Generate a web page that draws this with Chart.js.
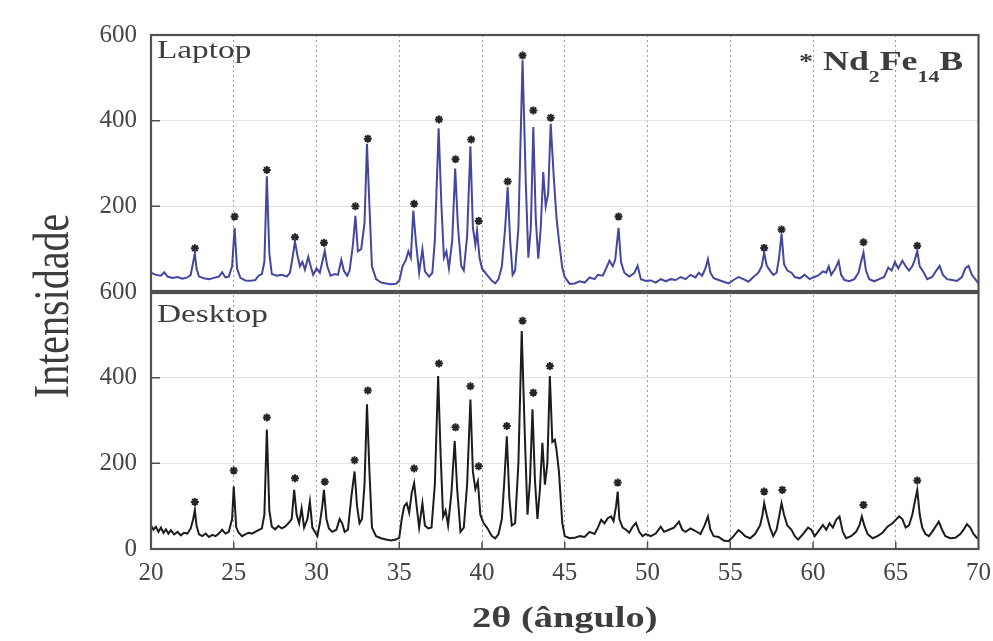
<!DOCTYPE html>
<html>
<head>
<meta charset="utf-8">
<script src="https://cdn.jsdelivr.net/npm/chart.js@4.4.1/dist/chart.umd.min.js"></script>
<style>
  html, body { margin: 0; padding: 0; background: #fff; overflow: hidden; }
  .ChartBox { width: 1000px; height: 641px; }
</style>
</head>
<body>
<div class="ChartBox"><canvas id="Chart"></canvas></div>
<script>
// axis ticks
let xTicks = [20, 25, 30, 35, 40, 45, 50, 55, 60, 65, 70];
let yTicks = [0, 200, 400, 600];

// Laptop pattern: [2theta, intensity]
let laptopPattern = [
    [20.0,45],[20.3,40],[20.6,38],[20.8,46],[21.0,36],[21.3,33],[21.6,35],[21.9,31],[22.2,34],[22.4,40],
    [22.55,70],[22.65,90],[22.75,55],[22.9,36],[23.2,32],[23.5,30],[23.8,33],[24.1,36],[24.3,46],[24.5,34],
    [24.7,36],[24.9,60],[25.05,150],[25.2,55],[25.4,33],[25.7,27],[26.0,26],[26.3,28],[26.5,38],[26.7,42],
    [26.85,70],[27.0,270],[27.15,90],[27.3,42],[27.6,38],[27.9,40],[28.2,36],[28.4,45],[28.55,80],[28.7,118],
    [28.85,85],[29.0,60],[29.15,70],[29.3,52],[29.5,82],[29.65,60],[29.8,40],[30.0,55],[30.2,45],[30.35,70],
    [30.5,96],[30.65,60],[30.85,38],[31.1,42],[31.3,40],[31.5,75],[31.65,50],[31.85,38],[32.0,50],[32.2,110],
    [32.35,178],[32.5,95],[32.7,100],[32.9,160],[33.05,346],[33.2,200],[33.35,60],[33.6,30],[33.9,22],[34.2,20],
    [34.5,18],[34.8,19],[35.0,26],[35.2,60],[35.4,75],[35.55,95],[35.7,80],[35.85,190],[36.0,120],[36.2,45],
    [36.4,100],[36.55,48],[36.8,36],[37.0,45],[37.15,120],[37.38,382],[37.55,200],[37.7,80],[37.85,95],[38.0,55],
    [38.2,120],[38.38,288],[38.55,150],[38.75,60],[38.9,50],[39.1,130],[39.3,340],[39.45,150],[39.6,110],[39.7,143],
    [39.85,80],[40.0,55],[40.3,40],[40.6,26],[40.8,20],[41.0,30],[41.2,60],[41.4,150],[41.55,245],[41.7,120],
    [41.85,40],[42.0,50],[42.2,150],[42.45,541],[42.65,250],[42.8,80],[42.95,150],[43.1,385],[43.25,170],[43.4,78],
    [43.55,150],[43.7,280],[43.85,200],[44.0,230],[44.15,393],[44.35,260],[44.5,174],[44.65,120],[44.85,57],[45.0,35],
    [45.3,19],[45.6,20],[45.9,25],[46.2,22],[46.5,34],[46.8,30],[47.0,40],[47.3,38],[47.5,55],[47.7,73],
    [47.9,60],[48.05,75],[48.25,150],[48.4,70],[48.6,45],[48.9,36],[49.2,44],[49.4,61],[49.6,30],[49.9,26],
    [50.2,27],[50.5,22],[50.8,30],[51.1,25],[51.4,30],[51.7,28],[52.0,35],[52.3,30],[52.6,40],[52.9,34],
    [53.1,45],[53.3,38],[53.5,55],[53.65,77],[53.8,45],[54.0,32],[54.3,28],[54.6,24],[54.9,20],[55.2,28],
    [55.5,35],[55.8,30],[56.1,24],[56.4,35],[56.7,45],[56.9,60],[57.05,92],[57.2,62],[57.4,50],[57.6,40],
    [57.8,45],[57.95,80],[58.1,136],[58.25,65],[58.45,50],[58.7,45],[58.9,35],[59.2,32],[59.5,40],[59.8,30],
    [60.0,34],[60.3,38],[60.6,48],[60.8,45],[60.95,60],[61.1,40],[61.35,55],[61.55,72],[61.7,40],[61.9,28],
    [62.2,25],[62.5,30],[62.75,45],[62.9,70],[63.05,92],[63.2,50],[63.4,30],[63.7,25],[64.0,30],[64.3,35],
    [64.55,57],[64.75,50],[64.95,70],[65.15,55],[65.4,73],[65.6,60],[65.8,50],[66.0,60],[66.15,75],[66.3,96],
    [66.45,60],[66.7,45],[66.9,30],[67.2,35],[67.45,50],[67.65,61],[67.85,40],[68.1,30],[68.4,28],[68.7,26],
    [69.0,35],[69.2,55],[69.4,61],[69.6,40],[69.8,30],[70.0,20]
];

// Desktop pattern: [2theta, intensity]
let desktopPattern = [
    [20.0,55],[20.15,45],[20.3,52],[20.45,40],[20.6,50],[20.75,38],[20.9,46],[21.05,36],[21.2,44],[21.4,34],
    [21.6,40],[21.8,32],[22.0,38],[22.2,36],[22.4,48],[22.55,70],[22.65,91],[22.75,55],[22.9,34],[23.1,30],
    [23.3,36],[23.5,28],[23.7,33],[23.9,30],[24.1,36],[24.3,45],[24.5,36],[24.7,40],[24.9,70],[25.0,146],
    [25.15,50],[25.3,38],[25.5,30],[25.7,34],[25.9,38],[26.1,36],[26.3,40],[26.5,44],[26.7,48],[26.85,80],
    [27.0,279],[27.15,90],[27.3,52],[27.5,46],[27.7,54],[27.9,48],[28.1,52],[28.3,60],[28.5,70],[28.65,138],
    [28.8,80],[28.95,60],[29.1,95],[29.25,50],[29.45,70],[29.6,111],[29.75,50],[29.9,40],[30.05,30],[30.2,60],
    [30.35,100],[30.45,138],[30.6,70],[30.75,48],[30.95,40],[31.2,45],[31.4,70],[31.55,60],[31.7,40],[31.9,45],
    [32.1,120],[32.3,181],[32.45,100],[32.6,60],[32.75,70],[32.9,150],[33.05,338],[33.2,180],[33.35,50],[33.6,30],
    [33.9,25],[34.2,22],[34.5,20],[34.8,22],[35.0,26],[35.15,70],[35.3,100],[35.45,107],[35.6,85],[35.75,130],
    [35.9,154],[36.05,100],[36.2,50],[36.4,107],[36.55,55],[36.75,48],[36.95,50],[37.15,150],[37.35,404],[37.5,220],
    [37.65,75],[37.8,90],[37.95,55],[38.15,130],[38.35,252],[38.5,140],[38.7,40],[38.9,50],[39.1,150],[39.3,349],
    [39.45,180],[39.6,140],[39.75,158],[39.9,80],[40.1,60],[40.3,50],[40.6,30],[40.8,25],[41.0,35],[41.2,70],
    [41.35,160],[41.5,263],[41.65,120],[41.8,55],[42.0,60],[42.2,200],[42.4,509],[42.6,250],[42.75,80],[42.9,160],
    [43.05,326],[43.2,160],[43.35,70],[43.5,140],[43.65,248],[43.8,150],[43.95,200],[44.1,404],[44.25,250],[44.4,255],
    [44.5,232],[44.65,180],[44.85,61],[45.0,30],[45.3,25],[45.6,26],[45.9,30],[46.2,28],[46.5,40],[46.8,35],
    [47.0,50],[47.2,68],[47.4,60],[47.6,72],[47.8,76],[47.95,65],[48.1,100],[48.2,134],[48.3,70],[48.5,50],
    [48.7,45],[48.9,38],[49.1,52],[49.3,61],[49.5,40],[49.7,30],[49.9,35],[50.2,30],[50.5,36],[50.8,52],
    [51.0,40],[51.3,45],[51.6,50],[51.9,64],[52.1,45],[52.3,40],[52.6,48],[52.9,42],[53.2,35],[53.45,55],
    [53.65,76],[53.8,45],[54.0,30],[54.3,28],[54.6,20],[54.9,18],[55.2,30],[55.5,44],[55.7,38],[55.9,30],
    [56.2,25],[56.5,35],[56.8,55],[56.95,80],[57.05,107],[57.2,80],[57.4,50],[57.6,30],[57.8,45],[57.95,75],
    [58.1,107],[58.25,80],[58.45,55],[58.7,45],[58.9,30],[59.1,22],[59.4,35],[59.7,50],[59.9,45],[60.1,30],
    [60.3,40],[60.6,56],[60.8,45],[61.0,60],[61.2,50],[61.4,68],[61.6,76],[61.8,40],[62.0,25],[62.3,30],
    [62.6,40],[62.8,55],[62.95,76],[63.1,55],[63.3,35],[63.6,25],[63.9,30],[64.2,38],[64.5,52],[64.8,60],
    [65.0,68],[65.2,76],[65.4,70],[65.6,50],[65.8,55],[66.0,80],[66.15,110],[66.3,138],[66.45,80],[66.6,50],
    [66.8,35],[67.0,30],[67.2,40],[67.45,55],[67.6,64],[67.8,45],[68.0,30],[68.3,25],[68.6,26],[68.9,35],
    [69.1,45],[69.3,58],[69.5,50],[69.7,35],[69.9,26],[70.0,24]
];

// Nd2Fe14B peak markers (*)
let laptopPeaks = [
    [22.65,102],[25.05,176],[27.0,285],[28.7,128],[30.45,115],[32.35,200],[33.1,358],[35.9,206],[37.4,403],[38.4,310],
    [39.35,356],[39.8,166],[41.55,258],[42.45,552],[43.1,424],[44.15,407],[48.25,176],[57.05,103],[58.1,146],[63.05,116],[66.3,108]
];
let desktopPeaks = [
    [22.65,110],[25.0,183],[27.0,307],[28.7,165],[30.5,157],[32.3,207],[33.1,370],[35.9,188],[37.4,433],[38.4,284],
    [39.3,380],[39.8,193],[41.5,287],[42.45,533],[43.1,365],[44.1,427],[48.2,155],[57.05,134],[58.15,138],[63.05,103],[66.3,160]
];

const SX = 1.28;
const TXT = '#3d3d3d';

function stretchedText(ctx, text, x, y, font, align) {
    ctx.save();
    ctx.font = font;
    ctx.fillStyle = TXT;
    ctx.translate(x, y);
    ctx.scale(SX, 1);
    ctx.textAlign = align || 'left';
    ctx.textBaseline = 'alphabetic';
    ctx.fillText(text, 0, 0);
    ctx.restore();
}

const framePlugin = {
    id: 'frame',
    afterDraw(chart) {
        let ctx = chart.ctx;
        let area = chart.chartArea;
        let xs = chart.scales.x, yt = chart.scales.yTop, yb = chart.scales.yBot;

        ctx.save();
        ctx.strokeStyle = '#505050';
        ctx.lineWidth = 1.5;
        // inward ticks
        ctx.beginPath();
        xTicks.slice(1, -1).forEach(v => {
            let px = xs.getPixelForValue(v);
            ctx.moveTo(px, yb.bottom);
            ctx.lineTo(px, yb.bottom - 7);
        });
        [yt, yb].forEach(s => {
            [200, 400].forEach(v => {
                let py = s.getPixelForValue(v);
                ctx.moveTo(area.left, py);
                ctx.lineTo(area.left + 9, py);
            });
        });
        ctx.stroke();

        // panel frames
        ctx.lineWidth = 2.2;
        ctx.strokeRect(area.left, yt.top, area.right - area.left, yt.bottom - yt.top - 1);
        ctx.strokeRect(area.left, yb.top + 1, area.right - area.left, yb.bottom - yb.top - 1);
        ctx.restore();

        // labels
        stretchedText(ctx, 'Laptop', area.left + 6, yt.top + 23, '26px "Liberation Serif"');
        stretchedText(ctx, 'Desktop', area.left + 6, yb.top + 30, '26px "Liberation Serif"');

        // * Nd2Fe14B
        let big = 'bold 28px "Liberation Serif"', small = 'bold 17px "Liberation Serif"';
        let parts = [['Nd', big, 0], ['2', small, 12], ['Fe', big, 0], ['14', small, 12], ['B', big, 0]];
        let x = 823, base = yt.top + 35;
        stretchedText(ctx, '*', 799, base - 2, 'bold 22px "Liberation Serif"');
        parts.forEach(p => {
            ctx.font = p[1];
            let w = ctx.measureText(p[0]).width * SX;
            stretchedText(ctx, p[0], x, base + p[2], p[1]);
            x += w;
        });

        // axis titles
        stretchedText(ctx, '2\u03b8 (\u00e2ngulo)', (area.left + area.right) / 2, 627, 'bold 30px "Liberation Serif"', 'center');

        ctx.save();
        ctx.font = '40px "Liberation Serif"';
        ctx.fillStyle = TXT;
        ctx.translate(68, (yt.top + yb.bottom) / 2 + 14);
        ctx.scale(SX, 1);
        ctx.rotate(-Math.PI / 2);
        ctx.textAlign = 'center';
        ctx.fillText('Intensidade', 0, 0);
        ctx.restore();
    }
};

const tickFont = { family: '"Liberation Serif"', size: 25 };

function yAxis(hideZero) {
    return {
        type: 'linear',
        position: 'left',
        stack: 'xrd',
        stackWeight: 1,
        min: 0,
        max: 600,
        afterBuildTicks: s => { s.ticks = yTicks.map(v => ({ value: v })); },
        afterFit: s => { s.width = 151; },
        ticks: {
            font: tickFont,
            color: '#454545',
            padding: 14,
            callback: v => (hideZero && v === 0) ? '' : v
        },
        grid: {
            drawTicks: false,
            lineWidth: 1,
            color: c => (c.tick && (c.tick.value === 200 || c.tick.value === 400)) ? '#e2e2e2' : 'transparent'
        },
        border: { display: false }
    };
}

let ctx = document.getElementById('Chart').getContext('2d');

new Chart(ctx, {
    type: 'line',
    data: {
        datasets: [
            {
                label: 'Laptop',
                data: laptopPattern.map(p => ({ x: p[0], y: p[1] })),
                yAxisID: 'yTop',
                borderColor: '#44479f',
                borderWidth: 2,
                pointRadius: 0,
                tension: 0
            },
            {
                label: 'Desktop',
                data: desktopPattern.map(p => ({ x: p[0], y: p[1] })),
                yAxisID: 'yBot',
                borderColor: '#1c1c1c',
                borderWidth: 2,
                pointRadius: 0,
                tension: 0
            },
            {
                label: 'Nd2Fe14B laptop',
                data: laptopPeaks.map(p => ({ x: p[0], y: p[1] })),
                yAxisID: 'yTop',
                showLine: false,
                pointStyle: 'star',
                pointRadius: 4,
                borderWidth: 2,
                borderColor: '#262626',
                backgroundColor: '#262626'
            },
            {
                label: 'Nd2Fe14B desktop',
                data: desktopPeaks.map(p => ({ x: p[0], y: p[1] })),
                yAxisID: 'yBot',
                showLine: false,
                pointStyle: 'star',
                pointRadius: 4,
                borderWidth: 2,
                borderColor: '#262626',
                backgroundColor: '#262626'
            }
        ]
    },
    options: {
        responsive: true,
        maintainAspectRatio: false,
        animation: false,
        devicePixelRatio: 1,
        layout: { padding: { top: 35, right: 16, bottom: 0, left: 0 } },
        plugins: {
            legend: { display: false },
            tooltip: { enabled: false }
        },
        scales: {
            x: {
                type: 'linear',
                min: 20,
                max: 70,
                afterBuildTicks: s => { s.ticks = xTicks.map(v => ({ value: v })); },
                afterFit: s => { s.height = 92; },
                ticks: { font: tickFont, color: '#454545', padding: 9 },
                grid: {
                    drawTicks: false,
                    color: c => (c.tick && c.tick.value > 20 && c.tick.value < 70) ? '#9a9a9a' : 'transparent'
                },
                border: { display: false, dash: [2, 3] }
            },
            // stacked scales are placed bottom-up, so the lower panel comes first
            yBot: yAxis(false),
            yTop: yAxis(true)
        }
    },
    plugins: [framePlugin]
});
</script>
</body>
</html>
